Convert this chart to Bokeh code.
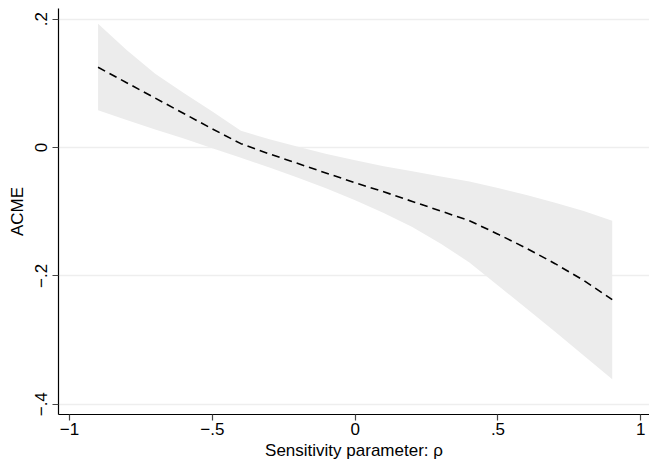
from bokeh.plotting import figure
from bokeh.models import Range1d, FixedTicker
from bokeh.embed import file_html
from bokeh.resources import INLINE

# Data
rho = [-0.9, -0.8, -0.7, -0.6, -0.5, -0.4, -0.3, -0.2, -0.1, 0.0,
       0.1, 0.2, 0.3, 0.4, 0.5, 0.6, 0.7, 0.8, 0.9]
acme = [0.125, 0.101, 0.077, 0.053, 0.029, 0.006, -0.010, -0.025, -0.040, -0.055,
        -0.069, -0.084, -0.099, -0.114, -0.135, -0.157, -0.181, -0.207, -0.237]
upper = [0.193, 0.152, 0.115, 0.085, 0.056, 0.026, 0.013, 0.001, -0.010, -0.020,
         -0.029, -0.037, -0.045, -0.053, -0.063, -0.074, -0.086, -0.099, -0.114]
lower = [0.058, 0.043, 0.028, 0.014, -0.001, -0.016, -0.031, -0.047, -0.064, -0.082,
         -0.102, -0.124, -0.150, -0.179, -0.215, -0.251, -0.287, -0.324, -0.361]

x_ticks = [-1, -0.5, 0, 0.5, 1]
x_tick_labels = ["\u22121", "\u2212.5", "0", ".5", "1"]
y_ticks = [-0.4, -0.2, 0, 0.2]
y_tick_labels = ["\u2212.4", "\u2212.2", "0", ".2"]

FONT = "Liberation Sans"

p = figure(width=649, height=462, output_backend="svg", toolbar_location=None,
           x_range=Range1d(-1.0385, 1.0305), y_range=Range1d(-0.416, 0.2166),
           min_border_left=58, min_border_right=0, min_border_top=8,
           min_border_bottom=46)
p.outline_line_color = None
p.background_fill_color = "white"

p.varea(x=rho, y1=lower, y2=upper, fill_color="#ececec", fill_alpha=1.0)
p.line(x=rho, y=acme, line_color="black", line_width=1.6, line_dash="8 5")

# grid
p.xgrid.visible = False
p.ygrid.ticker = FixedTicker(ticks=y_ticks)
p.ygrid.grid_line_color = "#eeeeee"
p.ygrid.grid_line_width = 1.5

# x axis
xa = p.xaxis[0]
xa.ticker = FixedTicker(ticks=x_ticks)
xa.major_label_overrides = dict(zip(x_ticks, x_tick_labels))
xa.axis_label = "Sensitivity parameter: \u03c1"
xa.minor_tick_line_color = None
xa.major_tick_out = 6
xa.major_tick_in = 0
xa.major_label_standoff = 2
xa.axis_label_standoff = 3

# y axis
ya = p.yaxis[0]
ya.ticker = FixedTicker(ticks=y_ticks)
ya.major_label_overrides = dict(zip(y_ticks, y_tick_labels))
ya.axis_label = "ACME"
ya.minor_tick_line_color = None
ya.major_tick_out = 6
ya.major_tick_in = 0
ya.major_label_orientation = "vertical"
ya.major_label_standoff = 5
ya.axis_label_standoff = 6

for ax in (xa, ya):
    ax.axis_line_color = "black"
    ax.axis_line_width = 1.2
    ax.major_tick_line_color = "#444444"
    ax.major_tick_line_width = 1.2
    ax.major_label_text_font = FONT
    ax.major_label_text_font_size = "17px"
    ax.major_label_text_color = "black"
    ax.axis_label_text_font = FONT
    ax.axis_label_text_font_size = "17px"
    ax.axis_label_text_font_style = "normal"
    ax.axis_label_text_color = "black"

open("out.html", "w").write(file_html(p, INLINE))
